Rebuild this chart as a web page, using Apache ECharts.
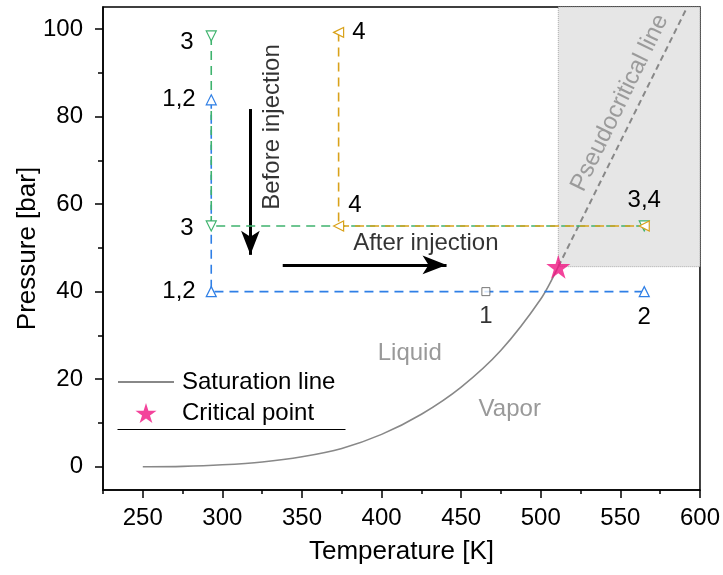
<!DOCTYPE html>
<html>
<head>
<meta charset="utf-8">
<script src="https://cdn.jsdelivr.net/npm/echarts@6/dist/echarts.min.js"></script>
<style>
  html, body { margin: 0; background: #fff; }
  #main { width: 723px; height: 575px; }
</style>
</head>
<body>
<div id="main"></div>
<script>
// saturation line (T in K, P in bar)
var satT = [250, 275, 300, 325, 350, 375, 400, 425, 450, 475, 500, 511];
var satP = [0, 0.1, 0.45, 1.1, 2.3, 4.2, 7.4, 12.0, 18.2, 26.6, 38.3, 45.7];
// critical point + pseudocritical line
var critT = [511];
var critP = [45.7];
var pseudoT = [511, 592];
var pseudoP = [45.7, 105];
// injection paths
var blueT = [293, 293, 565];
var blueP = [83.8, 40, 40];
var blueLab = ['1,2', '1,2', '2'];
var squareT = [465.5];
var squareP = [40];
var squareLab = ['1'];
var greenT = [293, 293, 565];
var greenP = [98.4, 55, 55];
var greenLab = ['3', '3', ''];
var orangeT = [373, 373, 565];
var orangeP = [99.2, 55, 55];
var orangeLab = ['4', '4', '3,4'];
// annotations
var phaseNames = ['Liquid', 'Vapor'];
var phaseT = [417.7, 480.5];
var phaseP = [26, 13];
// ticks
var xMajor = [250, 300, 350, 400, 450, 500, 550, 600];
var xMinor = [225, 275, 325, 375, 425, 475, 525, 575];
var yMajor = [0, 20, 40, 60, 80, 100];
var yMinor = [10, 30, 50, 70, 90];

var FONT = 'Liberation Sans, Arial, sans-serif';
var FS = 24;
var STAR = 'path://M50,0 L61,35 L98,35 L68,57 L79,91 L50,70 L21,91 L32,57 L2,35 L39,35 Z';

function pts(xs, ys) {
  return xs.map(function (x, i) { return [x, ys[i]]; });
}

// label placement per point (style, not data)
var blueLabPos = [
  { position: 'left', distance: 10 },
  { position: 'left', distance: 10 },
  { position: 'bottom', distance: 8 }
];
var greenLabPos = [
  { position: 'left', distance: 12, offset: [0, 6] },
  { position: 'left', distance: 12, offset: [0, 2] },
  { position: 'top', distance: 8 }
];
var orangeLabPos = [
  { position: 'right', distance: 8 },
  { position: 'right', distance: 4, offset: [0, -21] },
  { position: 'top', distance: 8 }
];

function pathData(xs, ys, labs, pos) {
  return xs.map(function (x, i) {
    var l = Object.assign({
      show: labs[i] !== '',
      formatter: labs[i],
      color: '#000',
      fontSize: FS,
      fontFamily: FONT
    }, pos[i]);
    return { value: [x, ys[i]], label: l };
  });
}

function pathSeries(name, xs, ys, labs, pos, color, rot) {
  return {
    name: name,
    type: 'line',
    data: pathData(xs, ys, labs, pos),
    symbol: 'triangle',
    symbolSize: 10,
    symbolRotate: rot,
    showSymbol: true,
    itemStyle: { color: '#fff', borderColor: color, borderWidth: 1.2 },
    lineStyle: { color: color, width: 1.6, type: [9, 6] },
    z: 5,
    silent: true
  };
}

var chart = echarts.init(document.getElementById('main'), null, { renderer: 'canvas' });

var option = {
  animation: false,
  backgroundColor: '#fff',
  textStyle: { fontFamily: FONT },
  grid: {
    left: 103, right: 23, top: 7, bottom: 85,
    show: true, borderColor: '#000', borderWidth: 1.5
  },
  legend: {
    left: 117, top: 370, orient: 'vertical', padding: 0,
    itemWidth: 56, itemHeight: 20, itemGap: 7,
    textStyle: { fontSize: FS, color: '#000', fontFamily: FONT, padding: [0, 0, 0, 3] },
    data: [
      { name: 'Saturation line', itemStyle: { opacity: 0 } },
      { name: 'Critical point', icon: STAR }
    ]
  },
  graphic: [{
    type: 'line', left: 115, top: 427,
    shape: { x1: 0, y1: 0, x2: 228, y2: 0 },
    style: { stroke: '#000', lineWidth: 1 }
  }],
  xAxis: [{
    type: 'value', min: 225, max: 600,
    name: 'Temperature [K]', nameLocation: 'middle', nameGap: 49, nameMoveOverlap: false,
    nameTextStyle: { fontSize: 26, color: '#000', fontFamily: FONT },
    axisLine: { show: true, onZero: false, lineStyle: { color: '#000', width: 1.5 } },
    axisTick: { show: true, length: 8, customValues: xMajor, lineStyle: { color: '#000', width: 1.5 } },
    axisLabel: { customValues: xMajor, fontSize: FS, color: '#000', margin: 16, fontFamily: FONT },
    splitLine: { show: false }
  }, {
    type: 'value', min: 225, max: 600, position: 'bottom',
    axisLine: { show: false, onZero: false },
    axisTick: { show: true, length: 4, customValues: xMinor, lineStyle: { color: '#000', width: 1.5 } },
    axisLabel: { show: false },
    splitLine: { show: false }
  }],
  yAxis: [{
    type: 'value', min: -5.3, max: 105,
    name: 'Pressure [bar]', nameLocation: 'middle', nameGap: 62, nameRotate: 90, nameMoveOverlap: false,
    nameTextStyle: { fontSize: 26, color: '#000', fontFamily: FONT },
    axisLine: { show: true, onZero: false, lineStyle: { color: '#000', width: 1.5 } },
    axisTick: { show: true, length: 8, customValues: yMajor, lineStyle: { color: '#000', width: 1.5 } },
    axisLabel: { customValues: yMajor, fontSize: FS, color: '#000', margin: 20, fontFamily: FONT },
    splitLine: { show: false }
  }, {
    type: 'value', min: -5.3, max: 105, position: 'left',
    axisLine: { show: false, onZero: false },
    axisTick: { show: true, length: 5, customValues: yMinor, lineStyle: { color: '#000', width: 1.5 } },
    axisLabel: { show: false },
    splitLine: { show: false }
  }],
  series: [
    {
      name: 'Pseudocritical',
      type: 'line',
      data: pts(pseudoT, pseudoP),
      symbol: 'none',
      lineStyle: { color: '#888', width: 2, type: [6, 4] },
      z: 3,
      silent: true,
      markArea: {
        silent: true,
        itemStyle: { color: '#e6e6e6', borderColor: '#aaa', borderWidth: 1, borderType: 'dotted' },
        data: [[{ coord: [pseudoT[0], pseudoP[0]] }, { coord: [600, 105] }]]
      }
    },
    {
      name: 'Saturation line',
      type: 'line',
      data: pts(satT, satP),
      symbol: 'none',
      smooth: 0.3,
      lineStyle: { color: '#888', width: 1.6 },
      itemStyle: { color: '#888' },
      z: 4,
      silent: true
    },
    pathSeries('Path 1,2', blueT, blueP, blueLab, blueLabPos, '#2f7fe6', 0),
    pathSeries('Path 3', greenT, greenP, greenLab, greenLabPos, '#3fb36e', 180),
    pathSeries('Path 4', orangeT, orangeP, orangeLab, orangeLabPos, '#d9a21b', 90),
    {
      name: 'Point 1',
      type: 'scatter',
      data: pts(squareT, squareP),
      symbol: 'rect',
      symbolSize: 8,
      itemStyle: { color: '#fff', borderColor: '#555', borderWidth: 1 },
      label: {
        show: true, position: 'bottom', distance: 8,
        formatter: function (p) { return squareLab[p.dataIndex]; },
        color: '#000', fontSize: FS, fontFamily: FONT
      },
      z: 6,
      silent: true
    },
    {
      name: 'Critical point',
      type: 'scatter',
      data: pts(critT, critP),
      symbol: STAR,
      symbolSize: 24,
      itemStyle: { color: '#f01482' },
      z: 8,
      silent: true
    },
    {
      name: 'Phases',
      type: 'scatter',
      data: phaseNames.map(function (n, i) { return { name: n, value: [phaseT[i], phaseP[i]] }; }),
      symbolSize: 0,
      label: {
        show: true, position: 'inside', formatter: '{b}',
        color: '#808080', fontSize: FS, fontFamily: FONT
      },
      silent: true,
      z: 6,
      markLine: {
        silent: true,
        symbol: ['none', 'arrow'],
        symbolSize: [14, 24],
        lineStyle: { color: '#000', width: 3, type: 'solid' },
        label: { show: false },
        data: [
          [{ coord: [317.6, 81.7] }, { coord: [317.6, 48.4] }],
          [{ coord: [337.9, 46.1] }, { coord: [440.8, 46.1] }]
        ]
      }
    },
    {
      name: 'Injection text',
      type: 'scatter',
      data: [
        { name: 'Before injection', value: [331.7, 77.6], label: { rotate: 90 } },
        { name: 'After injection', value: [427.8, 51.1] },
        { name: 'Pseudocritical line', value: [549.6, 83.1], label: { rotate: 64, color: '#888' } }
      ],
      symbolSize: 0,
      label: {
        show: true, position: 'inside', formatter: '{b}',
        color: '#000', fontSize: FS, fontFamily: FONT
      },
      silent: true,
      z: 7
    }
  ]
};

chart.setOption(option);
</script>
</body>
</html>
